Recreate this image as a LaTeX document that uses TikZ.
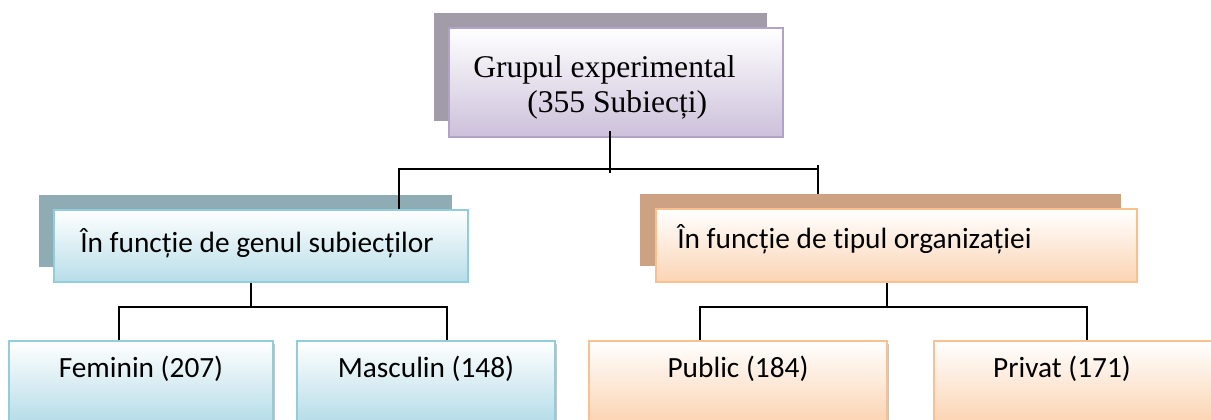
\documentclass[tikz,border=0pt]{standalone}
\usepackage{fontspec}
\setmainfont{Liberation Serif}
\newfontfamily\calib[Ligatures=NoCommon]{Carlito}
\usetikzlibrary{fit,shadows}

\definecolor{lavShadow}{HTML}{A29BA8}
\definecolor{lavEdge}{HTML}{B3A2C7}
\definecolor{lavFill}{HTML}{CCC0DA}
\definecolor{blueShadow}{HTML}{8FACB4}
\definecolor{blueEdge}{HTML}{92CDDC}
\definecolor{blueFill}{HTML}{B7DDE8}
\definecolor{peachShadow}{HTML}{CCA283}
\definecolor{peachEdge}{HTML}{FAC090}
\definecolor{peachFill}{HTML}{FBD4B4}

\begin{document}
\begin{tikzpicture}[x=0.75pt,y=-0.75pt]
\tikzset{
  backplate/.style={inner sep=0pt, draw=none},
  panel/.style={inner sep=0pt, line width=1.5pt, top color=white},
  leaf/.style={panel, drop shadow={shadow xshift=1.8pt, shadow yshift=-2.5pt, fill=black!45, opacity=0.5}},
  wire/.style={line width=1.1pt, black},
  sanslabel/.style={inner sep=0pt, font=\calib\fontsize{22}{26}\selectfont},
  seriflabel/.style={inner sep=0pt, font=\fontsize{23.7}{28}\selectfont},
}
\useasboundingbox (0,0) rectangle (1211,419);
\clip (0,0) rectangle (1211,419);

% root box
\node[backplate, fill=lavShadow, fit={(434,13) (767,121)}] (topSh) {};
\node[panel, draw=lavEdge, bottom color=lavFill, fit={(449,28) (783,137)}] (top) {};
\node[seriflabel, anchor=base west] (topA) at (473,77) {Grupul experimental};
\node[seriflabel, anchor=base west] (topB) at (527,112) {(355 Subiecți)};

% second level
\node[backplate, fill=blueShadow, fit={(39,195) (452,267)}] (genSh) {};
\node[panel, draw=blueEdge, bottom color=blueFill, fit={(54,210) (468,282)}] (gen) {};
\node[sanslabel, anchor=base west] (genT) at (80,252) {În funcție de genul subiecților};

\node[backplate, fill=peachShadow, fit={(640,194) (1121,266)}] (orgSh) {};
\node[panel, draw=peachEdge, bottom color=peachFill, fit={(656,209) (1137,282)}] (org) {};
\node[sanslabel, anchor=base west] (orgT) at (677,248) {În funcție de tipul organizației};

% leaves
\node[leaf, draw=blueEdge, bottom color=blueFill, fit={(9,341) (273,421)}] (fem) {};
\node[sanslabel, anchor=base] (femT) at (141,377) {Feminin (207)};
\node[leaf, draw=blueEdge, bottom color=blueFill, fit={(297,341) (555,421)}] (mas) {};
\node[sanslabel, anchor=base] (masT) at (426,377) {Masculin (148)};
\node[leaf, draw=peachEdge, bottom color=peachFill, fit={(589,341) (887,421)}] (pub) {};
\node[sanslabel, anchor=base] (pubT) at (738,377) {Public (184)};
\node[leaf, draw=peachEdge, bottom color=peachFill, fit={(934,341) (1218,421)}] (priv) {};
\node[sanslabel, anchor=base] (privT) at (1062,377) {Privat (171)};

% connectors
\coordinate (hub) at (610,169);
\coordinate (hubL) at (399,169);
\coordinate (hubR) at (818,169);
\draw[wire] (top.south -| hub) ++(0,-7) -- (hub) -- ++(0,4);
\draw[wire] (gen.north -| hubL) -- (hubL) -- (hubR) -- ++(0,-4);
\draw[wire] (hubR) -- (orgSh.north -| hubR);

\coordinate (genHub) at (251,307);
\coordinate (femJ) at (119,307);
\coordinate (masJ) at (447,307);
\draw[wire] (gen.south -| genHub) -- (genHub);
\draw[wire] (fem.north -| femJ) -- (femJ) -- (masJ) -- (mas.north -| masJ);

\coordinate (orgHub) at (887,307);
\coordinate (pubJ) at (700,307);
\coordinate (privJ) at (1087,307);
\draw[wire] (org.south -| orgHub) -- (orgHub);
\draw[wire] (pub.north -| pubJ) -- (pubJ) -- (privJ) -- (priv.north -| privJ);
\end{tikzpicture}
\end{document}
